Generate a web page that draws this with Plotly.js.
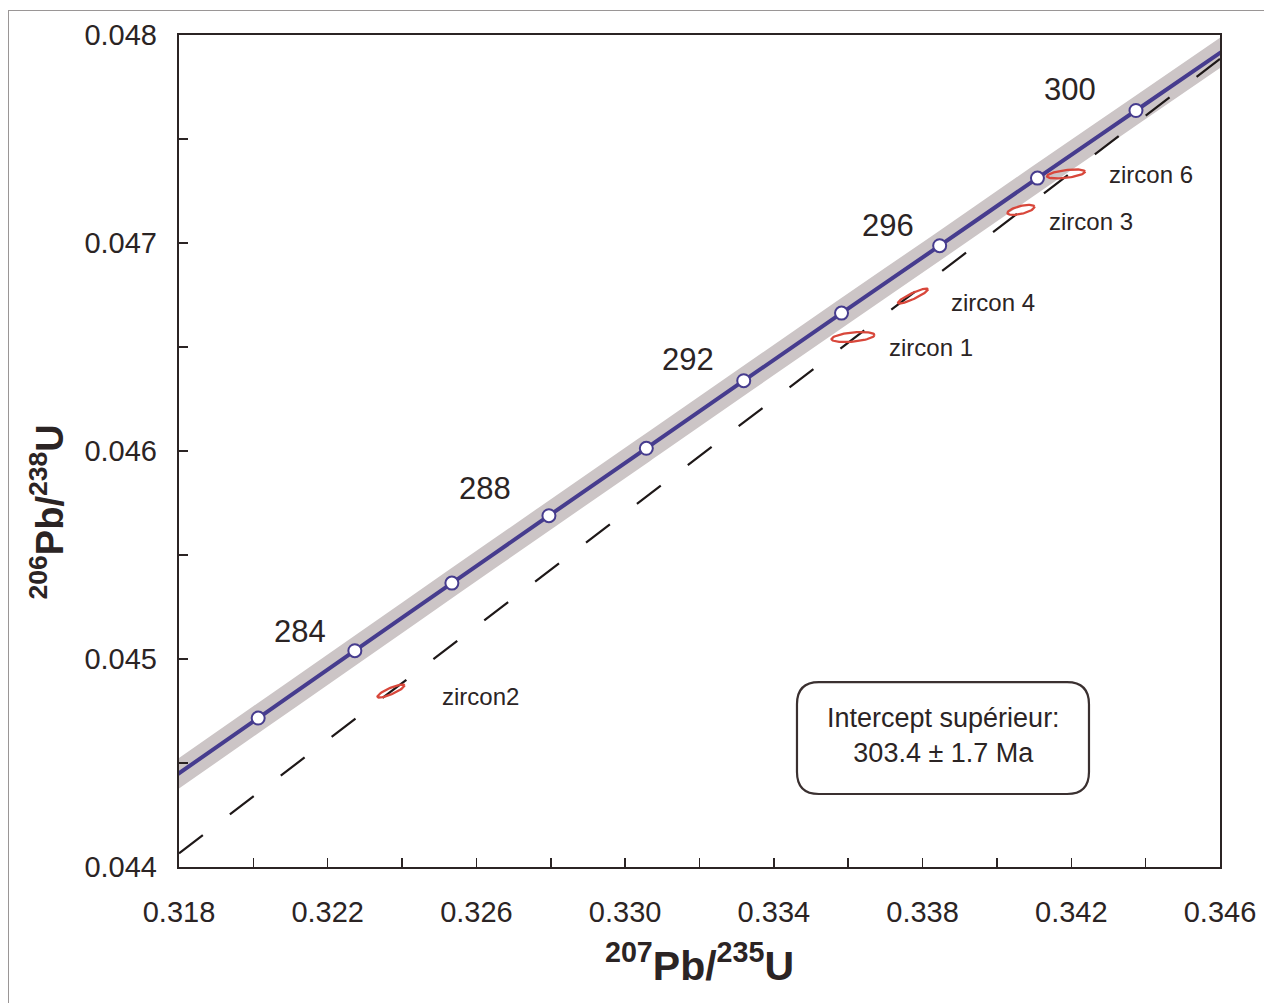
<!DOCTYPE html>
<html>
<head>
<meta charset="utf-8">
<script src="https://cdn.plot.ly/plotly-3.0.1.min.js"></script>
<style>
  html, body { margin: 0; padding: 0; background: #ffffff; }
  #wrap { position: relative; width: 1264px; height: 1003px; overflow: hidden; }
  #frame { position: absolute; left: 8px; top: 10px; width: 1300px; height: 1100px;
           border-left: 1.5px solid #9a9696; border-top: 1.5px solid #9a9696; pointer-events: none; }
  #chart { position: absolute; left: 0; top: 0; width: 1264px; height: 1003px; }
</style>
</head>
<body>
<div id="wrap">
  <div id="chart"></div>
  <div id="frame"></div>
</div>
<script>
// Concordia age marks (Ma) and their ratios
const concordiaAges = [282, 284, 286, 288, 290, 292, 294, 296, 298, 300];
const concordiaX = [0.32013, 0.32273, 0.32534, 0.32795, 0.33057, 0.33319, 0.33582, 0.33846, 0.34109, 0.34374];
const concordiaY = [0.044716, 0.045040, 0.045365, 0.045689, 0.046013, 0.046338, 0.046663, 0.046987, 0.047312, 0.047637];

// Concordia curve (slightly beyond the plotted window on both ends)
const curveX = [0.31753, 0.32013, 0.32273, 0.32534, 0.32795, 0.33057, 0.33319, 0.33582, 0.33846, 0.34109, 0.34374, 0.34639];
const curveY = [0.044392, 0.044716, 0.045040, 0.045365, 0.045689, 0.046013, 0.046338, 0.046663, 0.046987, 0.047312, 0.047637, 0.047962];

// Labelled ages
const labelAges = [284, 288, 292, 296, 300];

// Discordia line (end points)
const discordiaX = [0.318, 0.346];
const discordiaY = [0.044066, 0.047885];

// Zircon analyses: centre, half extents, correlation
const zirconNames = ["zircon 1", "zircon2", "zircon 3", "zircon 4", "zircon 6"];
const zirconX = [0.336129, 0.323702, 0.340647, 0.337742, 0.341858];
const zirconY = [0.046548, 0.044846, 0.047159, 0.046745, 0.047332];
const zirconSx = [0.000578, 0.000363, 0.000363, 0.000403, 0.000511];
const zirconSy = [0.0000240, 0.0000313, 0.0000240, 0.0000360, 0.0000216];
const zirconRho = [0.40, 0.85, 0.60, 0.90, 0.50];

// Axis ticks
const xTickVals = [0.318, 0.322, 0.326, 0.330, 0.334, 0.338, 0.342, 0.346];
const xTickText = ["0.318", "0.322", "0.326", "0.330", "0.334", "0.338", "0.342", "0.346"];
const yTickVals = [0.044, 0.045, 0.046, 0.047, 0.048];
const yTickText = ["0.044", "0.045", "0.046", "0.047", "0.048"];

const xTitle = "<sup>207</sup>Pb/<sup>235</sup>U";
const yTitle = "<sup>206</sup>Pb/<sup>238</sup>U";
const interceptText = "Intercept supérieur:<br>303.4 ± 1.7 Ma";

const FONT = "Liberation Sans, Arial, Helvetica, sans-serif";
const TXT = "#2b2424";
const BLUE = "#463c8e";

const traces = [];

// uncertainty band
traces.push({
  x: curveX, y: curveY, type: "scatter", mode: "lines",
  line: { color: "rgb(204,197,198)", width: 25, shape: "spline" },
  hoverinfo: "skip", showlegend: false
});

// discordia
traces.push({
  x: discordiaX, y: discordiaY, type: "scatter", mode: "lines",
  line: { color: "#1e1818", width: 2.2, dash: "30px,34px" },
  hoverinfo: "skip", showlegend: false
});

// concordia line
traces.push({
  x: curveX, y: curveY, type: "scatter", mode: "lines",
  line: { color: BLUE, width: 4, shape: "spline" },
  hoverinfo: "skip", showlegend: false
});

// zircon ellipses
for (let i = 0; i < zirconNames.length; i++) {
  const ex = [], ey = [];
  const r = zirconRho[i], s = Math.sqrt(1 - r * r);
  for (let k = 0; k <= 72; k++) {
    const t = 2 * Math.PI * k / 72;
    ex.push(zirconX[i] + zirconSx[i] * Math.cos(t));
    ey.push(zirconY[i] + zirconSy[i] * (r * Math.cos(t) + s * Math.sin(t)));
  }
  traces.push({
    x: ex, y: ey, type: "scatter", mode: "lines",
    line: { color: "#d8473b", width: 2.3 },
    name: zirconNames[i], hoverinfo: "name", showlegend: false
  });
}

// concordia age markers
traces.push({
  x: concordiaX, y: concordiaY, type: "scatter", mode: "markers",
  marker: { size: 13, color: "#ffffff", line: { color: BLUE, width: 2 } },
  text: concordiaAges.map(a => a + " Ma"), hoverinfo: "text", showlegend: false
});

const annotations = [];
const ageOff = { 284: [-55, -19], 288: [-64, -27], 292: [-56, -21], 296: [-52, -20], 300: [-66, -21] };
labelAges.forEach(a => {
  const i = concordiaAges.indexOf(a);
  annotations.push({
    x: concordiaX[i], y: concordiaY[i], xref: "x", yref: "y",
    text: String(a), showarrow: false,
    xshift: ageOff[a][0], yshift: -ageOff[a][1],
    font: { family: FONT, size: 31, color: TXT }
  });
});

const zOff = [[34, -10], [49, -5], [26, -12], [36, -6], [41, -1]];
zirconNames.forEach((n, i) => {
  annotations.push({
    x: zirconX[i], y: zirconY[i], xref: "x", yref: "y",
    text: n, showarrow: false, xanchor: "left",
    xshift: zOff[i][0], yshift: zOff[i][1],
    font: { family: FONT, size: 24, color: TXT }
  });
});

// intercept box text
annotations.push({
  x: 0.33855, y: 0.04462, xref: "x", yref: "y", yshift: 3,
  text: interceptText, showarrow: false, align: "center",
  font: { family: FONT, size: 27, color: TXT }
});

// y axis title (placed as rotated annotation to match reference position)
annotations.push({
  x: -0.127, y: 0.427, xref: "paper", yref: "paper",
  xanchor: "center", yanchor: "middle",
  text: yTitle, showarrow: false, textangle: -90,
  font: { family: FONT, size: 38, color: TXT, weight: "bold" }
});

// rounded box path (data coordinates)
const bx0 = 0.334622, bx1 = 0.342476, by0 = 0.044351, by1 = 0.044889;
const rx = 0.00059, ry = 0.000106;
const boxPath =
  `M ${bx0 + rx},${by1} L ${bx1 - rx},${by1} Q ${bx1},${by1} ${bx1},${by1 - ry} ` +
  `L ${bx1},${by0 + ry} Q ${bx1},${by0} ${bx1 - rx},${by0} ` +
  `L ${bx0 + rx},${by0} Q ${bx0},${by0} ${bx0},${by0 + ry} ` +
  `L ${bx0},${by1 - ry} Q ${bx0},${by1} ${bx0 + rx},${by1} Z`;

const layout = {
  width: 1264, height: 1003,
  margin: { l: 179, r: 44, t: 35, b: 136 },
  paper_bgcolor: "#ffffff", plot_bgcolor: "#ffffff",
  showlegend: false,
  font: { family: FONT, color: TXT },
  xaxis: {
    range: [0.318, 0.346], showgrid: false, zeroline: false,
    tickmode: "array", tickvals: xTickVals, ticktext: xTickText,
    ticks: "inside", ticklen: 9, tickwidth: 1.5, tickcolor: "#2b2424",
    minor: { dtick: 0.002, tick0: 0.318, ticks: "inside", ticklen: 9, tickwidth: 1.5, tickcolor: "#2b2424", showgrid: false },
    showline: true, linecolor: "#2b2424", linewidth: 2.2, mirror: true,
    tickfont: { family: FONT, size: 29, color: TXT },
    ticklabelstandoff: 18,
    title: { text: xTitle, font: { family: FONT, size: 41, color: TXT, weight: "bold" }, standoff: 24 },
    automargin: false
  },
  yaxis: {
    range: [0.044, 0.048], showgrid: false, zeroline: false,
    tickmode: "array", tickvals: yTickVals, ticktext: yTickText,
    ticks: "inside", ticklen: 9, tickwidth: 1.5, tickcolor: "#2b2424",
    minor: { dtick: 0.0005, tick0: 0.044, ticks: "inside", ticklen: 9, tickwidth: 1.5, tickcolor: "#2b2424", showgrid: false },
    showline: true, linecolor: "#2b2424", linewidth: 2.2, mirror: true,
    tickfont: { family: FONT, size: 29, color: TXT },
    ticklabelstandoff: 14,
    automargin: false
  },
  shapes: [{
    type: "path", xref: "x", yref: "y", path: boxPath,
    line: { color: "#3a3030", width: 2.2 }, fillcolor: "rgba(255,255,255,1)", layer: "above"
  }],
  annotations: annotations
};

Plotly.newPlot("chart", traces, layout, { staticPlot: true, displayModeBar: false });
</script>
</body>
</html>
